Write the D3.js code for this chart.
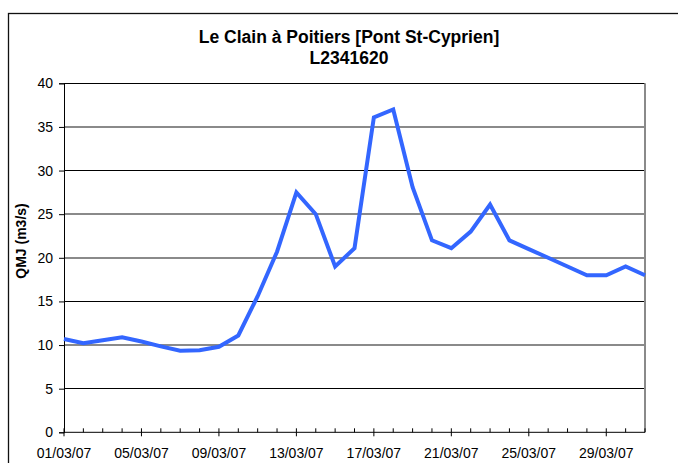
<!DOCTYPE html>
<meta charset="utf-8">
<style>
body { margin: 0; background: #fff; }
svg { display: block; }
text { font-family: Arial, "Liberation Sans", sans-serif; fill: #000; }
.title { font-size: 17.5px; font-weight: bold; }
.ylabel { font-size: 14px; font-weight: bold; }
.tick-label { font-size: 14px; }
</style>
<body>
<script src="https://cdn.jsdelivr.net/npm/d3@7/dist/d3.min.js"></script>
<script>

// daily mean flow (QMJ, m3/s), March 2007
var days = d3.range(1, 32);
var flows = [10.7, 10.2, 10.55, 10.9, 10.4, 9.85, 9.35, 9.4, 9.8, 11.1,
             15.6, 20.7, 27.5, 25.0, 19.0, 21.1, 36.1, 37.0, 28.1, 22.0,
             21.1, 23.0, 26.1, 22.0, 21.0, 20.0, 19.0, 18.0, 18.0, 19.0, 18.0];
var yTicks = [0, 5, 10, 15, 20, 25, 30, 35, 40];
var labelDays = [1, 5, 9, 13, 17, 21, 25, 29];

var titleLines = ["Le Clain à Poitiers [Pont St-Cyprien]", "L2341620"];
var yTitle = "QMJ (m3/s)";

var width = 678, height = 463;
var plot = {left: 64, right: 645, top: 83.3, bottom: 432.3};

function dateLabel(d) {
  return d3.format("02")(d) + "/03/07";
}

var x = d3.scaleLinear()
    .domain([1, 31])
    .range([plot.left, plot.right]);

var y = d3.scaleLinear()
    .domain([0, 40])
    .range([plot.bottom, plot.top]);

var svg = d3.select("body").append("svg")
    .attr("width", width)
    .attr("height", height);

// outer chart border (runs off the right and bottom edges)
svg.append("rect")
    .attr("x", 8.5)
    .attr("y", 13.5)
    .attr("width", 720)
    .attr("height", 520)
    .attr("fill", "none")
    .attr("stroke", "#111")
    .attr("stroke-width", 1.3);

// title
svg.append("text")
    .attr("class", "title")
    .attr("text-anchor", "middle")
    .selectAll("tspan")
    .data(titleLines)
    .enter()
    .append("tspan")
    .attr("x", 349)
    .attr("y", function(d, i) { return 43 + i * 21; })
    .text(function(d) { return d; });

// horizontal grid lines: thin black where they fall on a pixel row,
// a soft grey double row where they fall between two
function onPixel(v) {
  var f = y(v) - Math.floor(y(v));
  return Math.abs(f - 0.5) < 0.25;
}

svg.append("g")
    .selectAll("line")
    .data(yTicks.filter(function(d) { return d > 0; }))
    .enter()
    .append("line")
    .attr("x1", plot.left)
    .attr("x2", plot.right)
    .attr("y1", function(d) { return onPixel(d) ? Math.floor(y(d)) + 0.5 : Math.round(y(d)); })
    .attr("y2", function(d) { return onPixel(d) ? Math.floor(y(d)) + 0.5 : Math.round(y(d)); })
    .attr("stroke", function(d) { return onPixel(d) ? "#000" : "#8a8a8a"; })
    .attr("stroke-width", function(d) { return onPixel(d) ? 1 : 2; });

// right border of plot area
svg.append("line")
    .attr("x1", plot.right)
    .attr("x2", plot.right)
    .attr("y1", plot.top)
    .attr("y2", plot.bottom)
    .attr("stroke", "#8a8a8a")
    .attr("stroke-width", 2);

// y axis
var yAxis = d3.axisLeft(y)
    .tickValues(yTicks)
    .tickSize(5)
    .tickPadding(6);

var gy = svg.append("g")
    .attr("transform", "translate(" + plot.left + ",0)")
    .call(yAxis);
gy.select(".domain").attr("stroke", "#000");
gy.selectAll(".tick line").attr("stroke", "#000");
gy.selectAll(".tick text")
    .attr("class", "tick-label")
    .attr("font-family", null)
    .attr("font-size", null);

// x axis: minor ticks (every day, inside) and major ticks (outside, labelled)
var gx = svg.append("g")
    .attr("transform", "translate(0," + plot.bottom + ")");

gx.append("line")
    .attr("x1", plot.left)
    .attr("x2", plot.right)
    .attr("stroke", "#000");

gx.selectAll("line.minor")
    .data(days)
    .enter()
    .append("line")
    .attr("class", "minor")
    .attr("x1", function(d) { return x(d); })
    .attr("x2", function(d) { return x(d); })
    .attr("y1", 0)
    .attr("y2", -4)
    .attr("stroke", "#000");

var majors = gx.selectAll("g.major")
    .data(labelDays)
    .enter()
    .append("g")
    .attr("class", "major")
    .attr("transform", function(d) { return "translate(" + x(d) + ",0)"; });

majors.append("line")
    .attr("y1", 0)
    .attr("y2", 4)
    .attr("stroke", "#000");

majors.append("text")
    .attr("class", "tick-label")
    .attr("text-anchor", "middle")
    .attr("y", 26)
    .text(dateLabel);

// y axis title
svg.append("text")
    .attr("class", "ylabel")
    .attr("text-anchor", "middle")
    .attr("transform", "translate(26,241) rotate(-90)")
    .text(yTitle);

// flow line
var line = d3.line()
    .x(function(d, i) { return x(days[i]); })
    .y(function(d) { return y(d); });

svg.append("path")
    .datum(flows)
    .attr("fill", "none")
    .attr("stroke", "#3366FF")
    .attr("stroke-width", 4)
    .attr("stroke-linejoin", "miter")
    .attr("d", line);

</script>
